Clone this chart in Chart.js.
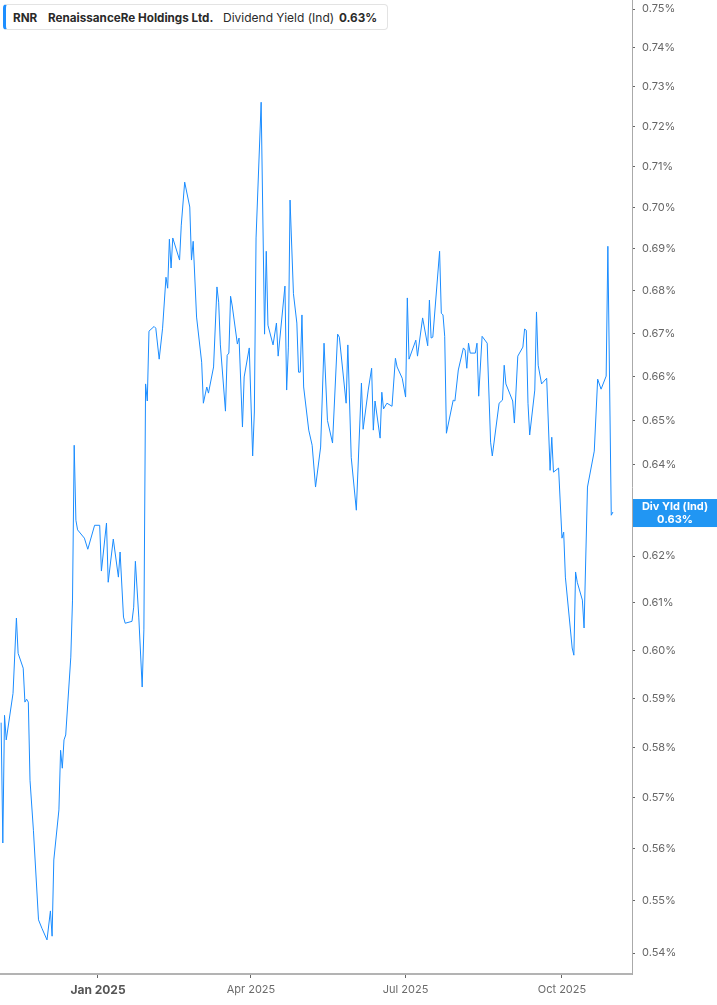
<!DOCTYPE html>
<html>
<head>
<meta charset="utf-8">
<script src="https://cdn.jsdelivr.net/npm/chart.js@4.4.1/dist/chart.umd.min.js"></script>
<style>
  html, body { margin: 0; padding: 0; background: #fff; }
  #wrap { position: relative; width: 717px; height: 1005px; font-family: Inter, "Noto Sans", sans-serif; }
  #legend { position: absolute; left: 3px; top: 4px; width: 385px; height: 26px; box-sizing: border-box;
            border: 1px solid #e3e3e3; border-left: 3px solid #1e8fff; border-radius: 4px; background: #fff;
            font-size: 12px; color: #2a2a2a; white-space: nowrap; }
  #legend span { position: absolute; top: 5px; }
  #legend .b { font-weight: 700; font-size: 11.7px; top: 5.5px; }
</style>
</head>
<body>
<div id="wrap">
  <canvas id="yieldChart" width="717" height="1005"></canvas>
  <div id="legend">
    <span class="b" style="left:7px">RNR</span>
    <span class="b" style="left:42px">RenaissanceRe Holdings Ltd.</span>
    <span style="left:217px">Dividend Yield (Ind)</span>
    <span class="b" style="left:333px">0.63%</span>
  </div>
</div>
<script>
// RNR dividend yield (ind), in percent
const dates = [
  "2024-11-05","2024-11-06","2024-11-07","2024-11-08","2024-11-12","2024-11-14","2024-11-15","2024-11-18","2024-11-19","2024-11-20",
  "2024-11-21","2024-11-22","2024-11-24","2024-11-26","2024-11-27","2024-11-29","2024-12-02","2024-12-04","2024-12-05","2024-12-06",
  "2024-12-09","2024-12-10","2024-12-11","2024-12-12","2024-12-13","2024-12-16","2024-12-17","2024-12-18","2024-12-19","2024-12-20",
  "2024-12-24","2024-12-26","2024-12-30","2025-01-02","2025-01-03","2025-01-06","2025-01-07","2025-01-10","2025-01-13","2025-01-14",
  "2025-01-16","2025-01-17","2025-01-21","2025-01-22","2025-01-23","2025-01-25","2025-01-27","2025-01-28","2025-01-29","2025-01-30",
  "2025-01-31","2025-02-03","2025-02-04","2025-02-06","2025-02-08","2025-02-10","2025-02-11","2025-02-12","2025-02-13","2025-02-14",
  "2025-02-18","2025-02-19","2025-02-21","2025-02-24","2025-02-25","2025-02-26","2025-02-28","2025-03-03","2025-03-04","2025-03-06",
  "2025-03-07","2025-03-10","2025-03-12","2025-03-13","2025-03-14","2025-03-17","2025-03-18","2025-03-19","2025-03-20","2025-03-21",
  "2025-03-24","2025-03-25","2025-03-27","2025-03-28","2025-03-31","2025-04-02","2025-04-03","2025-04-04","2025-04-07","2025-04-09",
  "2025-04-10","2025-04-11","2025-04-14","2025-04-16","2025-04-17","2025-04-21","2025-04-22","2025-04-23","2025-04-24","2025-04-26",
  "2025-04-28","2025-04-29","2025-04-30","2025-05-01","2025-05-02","2025-05-05","2025-05-07","2025-05-09","2025-05-12","2025-05-14",
  "2025-05-16","2025-05-19","2025-05-22","2025-05-23","2025-05-27","2025-05-28","2025-05-30","2025-06-02","2025-06-05","2025-06-06",
  "2025-06-09","2025-06-11","2025-06-12","2025-06-13","2025-06-16","2025-06-17","2025-06-18","2025-06-20","2025-06-23","2025-06-25",
  "2025-06-26","2025-06-29","2025-07-01","2025-07-02","2025-07-03","2025-07-07","2025-07-08","2025-07-11","2025-07-14","2025-07-15",
  "2025-07-16","2025-07-17","2025-07-21","2025-07-22","2025-07-23","2025-07-24","2025-07-25","2025-07-29","2025-07-30","2025-08-01",
  "2025-08-04","2025-08-05","2025-08-06","2025-08-07","2025-08-08","2025-08-11","2025-08-12","2025-08-13","2025-08-15","2025-08-18",
  "2025-08-20","2025-08-21","2025-08-25","2025-08-27","2025-08-28","2025-08-29","2025-09-02","2025-09-03","2025-09-05","2025-09-08",
  "2025-09-09","2025-09-10","2025-09-11","2025-09-12","2025-09-15","2025-09-16","2025-09-17","2025-09-19","2025-09-22","2025-09-24",
  "2025-09-25","2025-09-26","2025-09-29","2025-10-01","2025-10-02","2025-10-03","2025-10-07","2025-10-08","2025-10-09","2025-10-10",
  "2025-10-13","2025-10-14","2025-10-16","2025-10-20","2025-10-22","2025-10-24","2025-10-27","2025-10-28","2025-10-30","2025-10-31"
];
const yields = [
  0.5851,0.5611,0.5866,0.5816,0.5911,0.6068,0.5994,0.5963,0.5893,0.5899,
  0.5893,0.5735,0.5636,0.5520,0.5463,0.5447,0.5425,0.5480,0.5432,0.5578,
  0.5676,0.5795,0.5759,0.5816,0.5826,0.5986,0.6106,0.6444,0.6278,0.6257,
  0.6239,0.6215,0.6267,0.6267,0.6168,0.6272,0.6144,0.6237,0.6155,0.6209,
  0.6070,0.6057,0.6061,0.6091,0.6189,0.6070,0.5924,0.6043,0.6583,0.6544,
  0.6705,0.6716,0.6712,0.6640,0.6712,0.6832,0.6806,0.6923,0.6854,0.6926,
  0.6873,0.6957,0.7062,0.7001,0.6873,0.6918,0.6738,0.6633,0.6539,0.6576,
  0.6562,0.6622,0.6809,0.6773,0.6673,0.6521,0.6649,0.6654,0.6787,0.6764,
  0.6675,0.6689,0.6485,0.6599,0.6666,0.6420,0.6519,0.6926,0.7261,0.6698,
  0.6894,0.6719,0.6673,0.6724,0.6647,0.6811,0.6569,0.6666,0.7018,0.6793,
  0.6724,0.6610,0.6610,0.6743,0.6576,0.6478,0.6444,0.6351,0.6440,0.6677,
  0.6500,0.6449,0.6698,0.6691,0.6539,0.6673,0.6417,0.6300,0.6585,0.6480,
  0.6569,0.6619,0.6478,0.6544,0.6460,0.6564,0.6526,0.6539,0.6532,0.6642,
  0.6622,0.6596,0.6553,0.6783,0.6640,0.6684,0.6647,0.6736,0.6671,0.6778,
  0.6689,0.6691,0.6894,0.6747,0.6743,0.6693,0.6471,0.6546,0.6544,0.6615,
  0.6666,0.6661,0.6619,0.6677,0.6654,0.6654,0.6677,0.6555,0.6693,0.6677,
  0.6451,0.6420,0.6539,0.6546,0.6626,0.6583,0.6544,0.6494,0.6647,0.6668,
  0.6710,0.6707,0.6539,0.6467,0.6569,0.6750,0.6626,0.6583,0.6596,0.6388,
  0.6462,0.6384,0.6393,0.6239,0.6252,0.6155,0.6005,0.5990,0.6166,0.6144,
  0.6106,0.6047,0.6351,0.6431,0.6594,0.6571,0.6601,0.6906,0.6289,0.6296
];
const xTickDates = ["2025-01-01", "2025-04-01", "2025-07-01", "2025-10-01"];
const xTickLabels = ["Jan 2025", "Apr 2025", "Jul 2025", "Oct 2025"];
const yTicks = [0.54,0.55,0.56,0.57,0.58,0.59,0.60,0.61,0.62,0.63,0.64,0.65,0.66,0.67,0.68,0.69,0.70,0.71,0.72,0.73,0.74,0.75];
const xRange = [-57.66, 314.2];   // days from 2025-01-01
const yRange = [0.5361, 0.7524];
const tagTitle = "Div Yld (Ind)";

const DAY = 86400000;
const origin = Date.UTC(2025, 0, 1);
const toDay = s => (Date.parse(s + "T00:00:00Z") - origin) / DAY;
const xTickDays = xTickDates.map(toDay);
const points = dates.map((d, i) => ({ x: toDay(d), y: yields[i] }));

// value tag on the right axis for the latest reading
const lastTag = {
  id: "lastTag",
  afterDraw(chart) {
    const { ctx, chartArea } = chart;
    const last = yields[yields.length - 1];
    const y = chart.scales.y.getPixelForValue(last);
    const left = chartArea.right + 1;
    const w = chart.width - left;
    ctx.save();
    ctx.fillStyle = "#2196f3";
    ctx.fillRect(left, y - 13, w, 28);
    ctx.fillStyle = "#fff";
    ctx.font = "bold 11px Inter, 'Noto Sans', sans-serif";
    ctx.textAlign = "center";
    ctx.textBaseline = "middle";
    ctx.fillText(tagTitle, left + w / 2, y - 5);
    ctx.fillText(last.toFixed(2) + "%", left + w / 2, y + 8);
    ctx.restore();
  }
};

new Chart(document.getElementById("yieldChart"), {
  type: "line",
  data: {
    datasets: [{
      label: "Dividend Yield (Ind)",
      data: points,
      borderColor: "#1a8cff",
      borderWidth: 1,
      pointRadius: 0,
      tension: 0,
      fill: false
    }]
  },
  options: {
    responsive: false,
    animation: false,
    layout: { padding: 0 },
    plugins: { legend: { display: false }, tooltip: { enabled: false } },
    scales: {
      x: {
        type: "linear",
        min: xRange[0],
        max: xRange[1],
        bounds: "data",
        afterBuildTicks: s => { s.ticks = xTickDays.map(v => ({ value: v })); },
        afterFit: s => { s.height = 31; s.paddingLeft = 0; s.paddingRight = 0; },
        border: { display: true, color: "#b3b3b3", width: 2 },
        grid: { drawOnChartArea: false, drawTicks: true, tickLength: 4, tickColor: "#666" },
        ticks: {
          autoSkip: false,
          maxRotation: 0,
          padding: 5,
          callback: (v, i) => xTickLabels[i],
          color: c => c.index === 0 ? "#555" : "#6b6b6b",
          font: c => c.index === 0
            ? { family: "Inter", size: 12, weight: "bold" }
            : { family: "Inter", size: 11 }
        }
      },
      y: {
        type: "logarithmic",
        position: "right",
        min: yRange[0],
        max: yRange[1],
        bounds: "data",
        afterBuildTicks: s => { s.ticks = yTicks.map(v => ({ value: v })); },
        afterFit: s => { s.width = 85; s.paddingTop = 0; s.paddingBottom = 0; },
        border: { display: true, color: "#aaa", width: 1 },
        grid: { drawOnChartArea: false, drawTicks: true, tickLength: 3, tickColor: "#666" },
        ticks: {
          autoSkip: false,
          padding: 7,
          color: "#666",
          font: { family: "Inter", size: 11 },
          callback: v => Number(v).toFixed(2) + "%"
        }
      }
    }
  },
  plugins: [lastTag]
});
</script>
</body>
</html>
